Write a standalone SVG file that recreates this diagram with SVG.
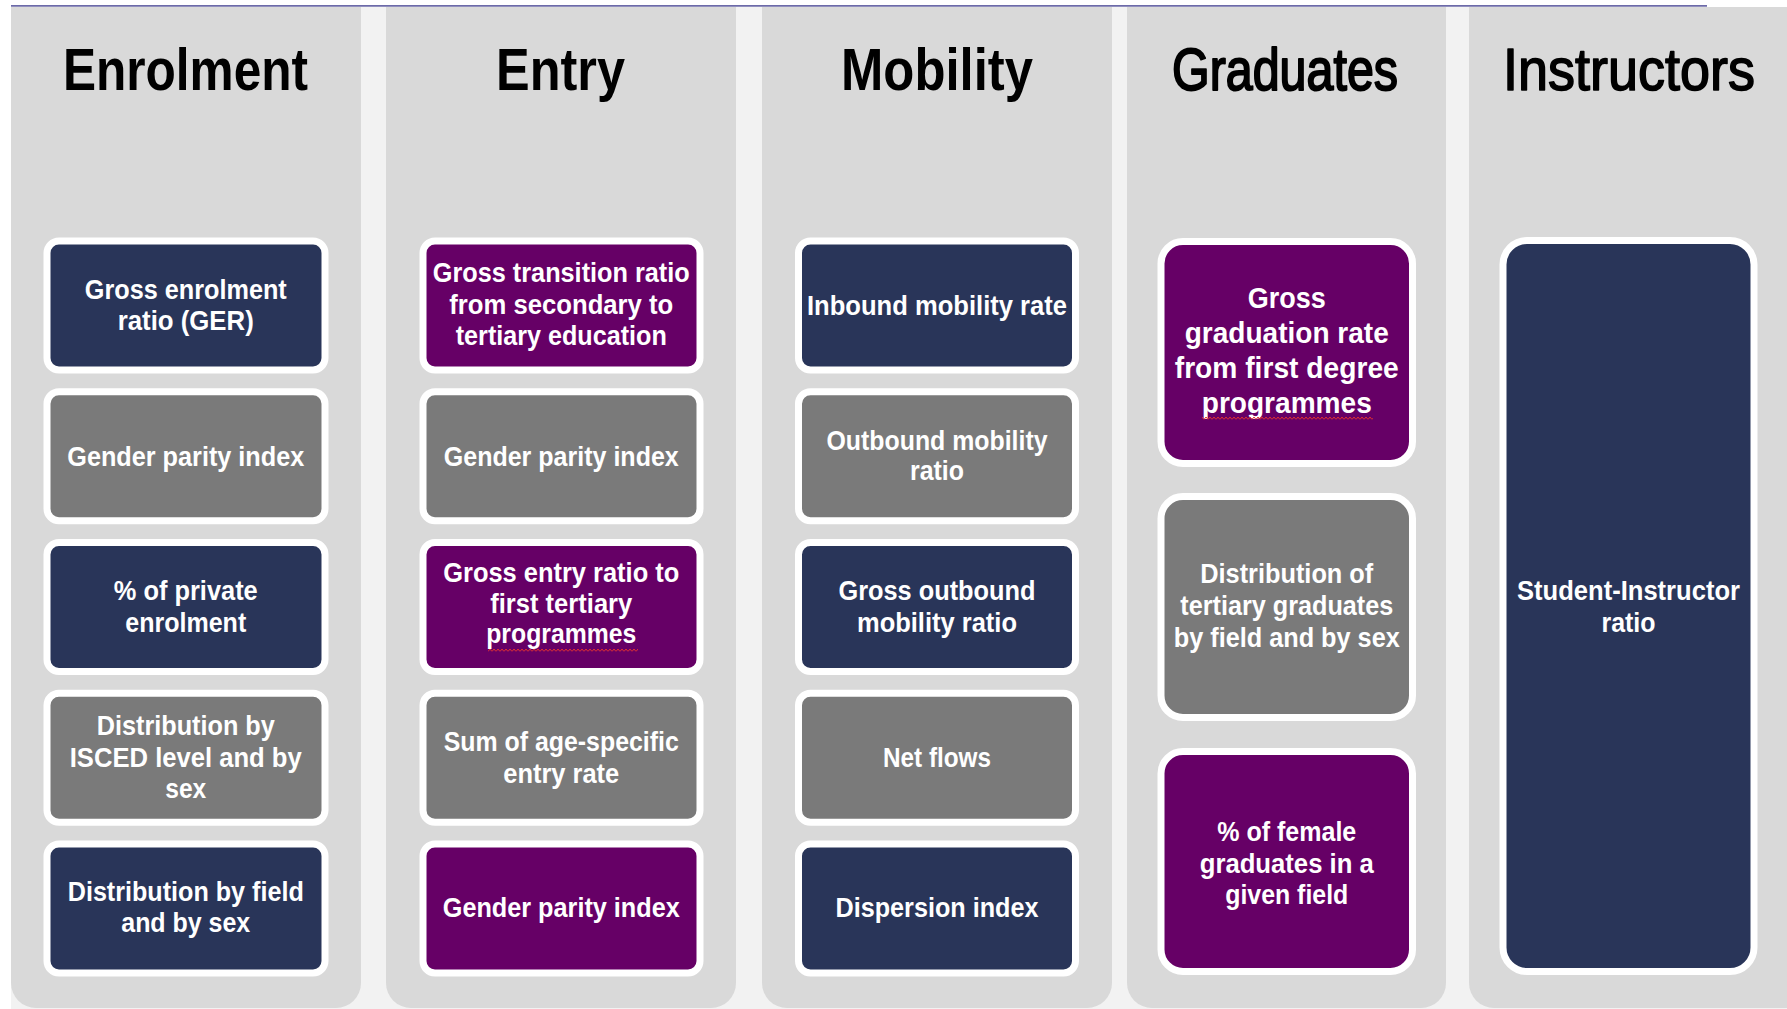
<svg xmlns="http://www.w3.org/2000/svg" width="1787" height="1009" viewBox="0 0 1787 1009">
<defs>
<style>
.bg{fill:#f2f2f2}
.col{fill:#d9d9d9}
.box{stroke:#ffffff;stroke-width:7}
.navy{fill:#293559}
.purple{fill:#660066}
.gray{fill:#7a7a7a}
.h{font-family:'Liberation Sans',Arial,sans-serif;font-size:60px;font-weight:bold;fill:#000;text-anchor:middle}
.hn{font-weight:normal;stroke:#000;stroke-width:1.6;stroke-linejoin:round}
.t{font-family:'Liberation Sans',Arial,sans-serif;font-size:28px;font-weight:bold;fill:#fff;text-anchor:middle}
.t4{font-size:29px}
.sq{fill:url(#squig)}
</style>
<pattern id="squig" width="4" height="4" patternUnits="userSpaceOnUse">
<path d="M0,3.5 L2,1 L4,3.5" fill="none" stroke="#e03030" stroke-width="1"/>
</pattern>
</defs>
<rect width="1787" height="1009" fill="#ffffff"/>
<rect class="bg" x="11" y="7" width="1776" height="1002"/>
<line x1="11" y1="5.8" x2="1707" y2="5.8" stroke="#6c6aa8" stroke-width="1.8"/>

<g id="col-enrolment">
<path class="col" d="M11,7 H361 V983 A25,25 0 0 1 336,1008 H36 A25,25 0 0 1 11,983 Z"/>
<text class="h" x="185.5" y="90" textLength="245" lengthAdjust="spacingAndGlyphs">Enrolment</text>
</g>
<g id="col-entry">
<path class="col" d="M386,7 H736 V983 A25,25 0 0 1 711,1008 H411 A25,25 0 0 1 386,983 Z"/>
<text class="h" x="560.5" y="90" textLength="129" lengthAdjust="spacingAndGlyphs">Entry</text>
</g>
<g id="col-mobility">
<path class="col" d="M762,7 H1112 V983 A25,25 0 0 1 1087,1008 H787 A25,25 0 0 1 762,983 Z"/>
<text class="h" x="937" y="90" textLength="192" lengthAdjust="spacingAndGlyphs">Mobility</text>
</g>
<g id="col-graduates">
<path class="col" d="M1127,7 H1446 V983 A25,25 0 0 1 1421,1008 H1152 A25,25 0 0 1 1127,983 Z"/>
<text class="h hn" x="1285" y="90" textLength="226" lengthAdjust="spacingAndGlyphs" style="stroke-width:2">Graduates</text>
</g>
<g id="col-instructors">
<path class="col" d="M1469,7 H1820 V983 A25,25 0 0 1 1795,1008 H1494 A25,25 0 0 1 1469,983 Z"/>
<text class="h hn" x="1629" y="90" textLength="252" lengthAdjust="spacingAndGlyphs">Instructors</text>
</g>

<g id="connectors"></g>

<!-- Enrolment nodes -->
<g id="n-ger">
<rect class="box navy" x="47" y="241" width="278" height="129" rx="12"/>
<text class="t" x="185.75" y="299" textLength="202" lengthAdjust="spacingAndGlyphs">Gross enrolment</text>
<text class="t" x="185.75" y="330" textLength="136" lengthAdjust="spacingAndGlyphs">ratio (GER)</text>
</g>
<g id="n-enrol-gpi">
<rect class="box gray" x="47" y="391.75" width="278" height="129" rx="12"/>
<text class="t" x="185.75" y="466" textLength="237" lengthAdjust="spacingAndGlyphs">Gender parity index</text>
</g>
<g id="n-private">
<rect class="box navy" x="47" y="542.5" width="278" height="129" rx="12"/>
<text class="t" x="185.75" y="600" textLength="144" lengthAdjust="spacingAndGlyphs">% of private</text>
<text class="t" x="185.75" y="632" textLength="121" lengthAdjust="spacingAndGlyphs">enrolment</text>
</g>
<g id="n-isced">
<rect class="box gray" x="47" y="693.25" width="278" height="129" rx="12"/>
<text class="t" x="185.75" y="735" textLength="178" lengthAdjust="spacingAndGlyphs">Distribution by</text>
<text class="t" x="185.75" y="767" textLength="232" lengthAdjust="spacingAndGlyphs">ISCED level and by</text>
<text class="t" x="185.75" y="798" textLength="41" lengthAdjust="spacingAndGlyphs">sex</text>
</g>
<g id="n-field">
<rect class="box navy" x="47" y="844" width="278" height="129" rx="12"/>
<text class="t" x="185.75" y="901" textLength="236" lengthAdjust="spacingAndGlyphs">Distribution by field</text>
<text class="t" x="185.75" y="932" textLength="129" lengthAdjust="spacingAndGlyphs">and by sex</text>
</g>

<!-- Entry nodes -->
<g id="n-transition">
<rect class="box purple" x="423" y="241" width="277" height="129" rx="12"/>
<text class="t" x="561.25" y="282" textLength="257" lengthAdjust="spacingAndGlyphs">Gross transition ratio</text>
<text class="t" x="561.25" y="314" textLength="224" lengthAdjust="spacingAndGlyphs">from secondary to</text>
<text class="t" x="561.25" y="345" textLength="211" lengthAdjust="spacingAndGlyphs">tertiary education</text>
</g>
<g id="n-entry-gpi">
<rect class="box gray" x="423" y="391.75" width="277" height="129" rx="12"/>
<text class="t" x="561.25" y="466" textLength="235" lengthAdjust="spacingAndGlyphs">Gender parity index</text>
</g>
<g id="n-entry-ratio">
<rect class="box purple" x="423" y="542.5" width="277" height="129" rx="12"/>
<text class="t" x="561.25" y="582" textLength="236" lengthAdjust="spacingAndGlyphs">Gross entry ratio to</text>
<text class="t" x="561.25" y="613" textLength="142" lengthAdjust="spacingAndGlyphs">first tertiary</text>
<text class="t" x="561.25" y="643" textLength="150" lengthAdjust="spacingAndGlyphs">programmes</text>
<rect class="sq" x="488" y="648" width="150" height="4"/>
</g>
<g id="n-age-specific">
<rect class="box gray" x="423" y="693.25" width="277" height="129" rx="12"/>
<text class="t" x="561.25" y="751" textLength="235" lengthAdjust="spacingAndGlyphs">Sum of age-specific</text>
<text class="t" x="561.25" y="783" textLength="116" lengthAdjust="spacingAndGlyphs">entry rate</text>
</g>
<g id="n-entry-gpi2">
<rect class="box purple" x="423" y="844" width="277" height="129" rx="12"/>
<text class="t" x="561.25" y="917" textLength="237" lengthAdjust="spacingAndGlyphs">Gender parity index</text>
</g>

<!-- Mobility nodes -->
<g id="n-inbound">
<rect class="box navy" x="798.5" y="241" width="277" height="129" rx="12"/>
<text class="t" x="937" y="315" textLength="260" lengthAdjust="spacingAndGlyphs">Inbound mobility rate</text>
</g>
<g id="n-outbound">
<rect class="box gray" x="798.5" y="391.75" width="277" height="129" rx="12"/>
<text class="t" x="937" y="450" textLength="221" lengthAdjust="spacingAndGlyphs">Outbound mobility</text>
<text class="t" x="937" y="480" textLength="54" lengthAdjust="spacingAndGlyphs">ratio</text>
</g>
<g id="n-gross-outbound">
<rect class="box navy" x="798.5" y="542.5" width="277" height="129" rx="12"/>
<text class="t" x="937" y="600" textLength="197" lengthAdjust="spacingAndGlyphs">Gross outbound</text>
<text class="t" x="937" y="632" textLength="160" lengthAdjust="spacingAndGlyphs">mobility ratio</text>
</g>
<g id="n-netflows">
<rect class="box gray" x="798.5" y="693.25" width="277" height="129" rx="12"/>
<text class="t" x="937" y="767" textLength="108" lengthAdjust="spacingAndGlyphs">Net flows</text>
</g>
<g id="n-dispersion">
<rect class="box navy" x="798.5" y="844" width="277" height="129" rx="12"/>
<text class="t" x="937" y="917" textLength="203" lengthAdjust="spacingAndGlyphs">Dispersion index</text>
</g>

<!-- Graduates nodes -->
<g id="n-graduation">
<rect class="box purple" x="1161" y="241.5" width="251.5" height="222" rx="22"/>
<text class="t t4" x="1286.75" y="308" textLength="78" lengthAdjust="spacingAndGlyphs">Gross</text>
<text class="t t4" x="1286.75" y="343" textLength="204" lengthAdjust="spacingAndGlyphs">graduation rate</text>
<text class="t t4" x="1286.75" y="378" textLength="224" lengthAdjust="spacingAndGlyphs">from first degree</text>
<text class="t t4" x="1286.75" y="413" textLength="170" lengthAdjust="spacingAndGlyphs">programmes</text>
<rect class="sq" x="1202" y="416" width="171" height="4"/>
</g>
<g id="n-grad-dist">
<rect class="box gray" x="1161" y="496.5" width="251.5" height="221" rx="22"/>
<text class="t" x="1286.75" y="583" textLength="173" lengthAdjust="spacingAndGlyphs">Distribution of</text>
<text class="t" x="1286.75" y="615" textLength="213" lengthAdjust="spacingAndGlyphs">tertiary graduates</text>
<text class="t" x="1286.75" y="647" textLength="226" lengthAdjust="spacingAndGlyphs">by field and by sex</text>
</g>
<g id="n-female">
<rect class="box purple" x="1161" y="751.5" width="251.5" height="220" rx="22"/>
<text class="t" x="1286.75" y="841" textLength="139" lengthAdjust="spacingAndGlyphs">% of female</text>
<text class="t" x="1286.75" y="873" textLength="174" lengthAdjust="spacingAndGlyphs">graduates in a</text>
<text class="t" x="1286.75" y="904" textLength="123" lengthAdjust="spacingAndGlyphs">given field</text>
</g>

<!-- Instructors node -->
<g id="n-student-instructor">
<rect class="box navy" x="1503" y="240.5" width="251" height="731" rx="24"/>
<text class="t" x="1628.5" y="600" textLength="223" lengthAdjust="spacingAndGlyphs">Student-Instructor</text>
<text class="t" x="1628.5" y="632" textLength="54" lengthAdjust="spacingAndGlyphs">ratio</text>
</g>
</svg>
